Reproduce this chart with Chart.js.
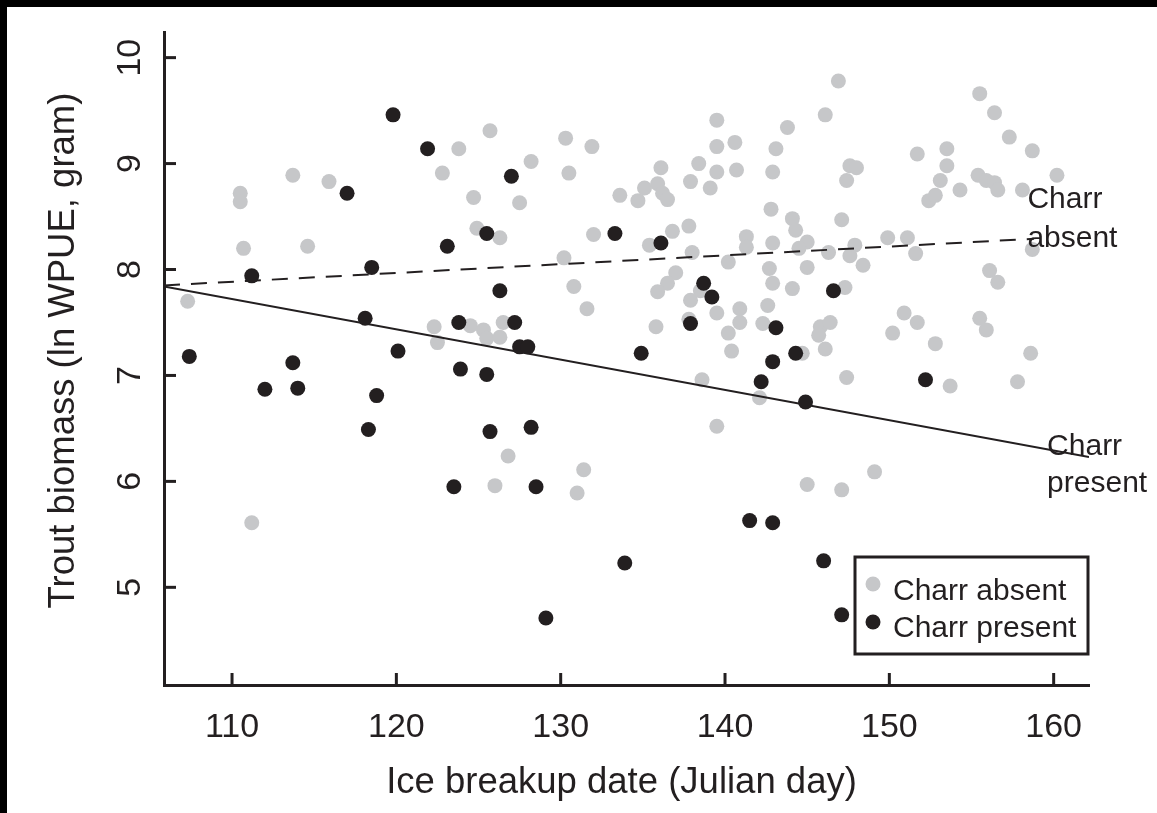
<!DOCTYPE html>
<html>
<head>
<meta charset="utf-8">
<title>Trout biomass vs ice breakup date</title>
<script src="https://cdn.jsdelivr.net/npm/chart.js@4.4.1/dist/chart.umd.min.js"></script>
<style>
  html, body { margin: 0; padding: 0; background: #fff; }
  canvas { display: block; }
</style>
</head>
<body>
<canvas id="c" width="1157" height="813"></canvas>
<script>
// ---------------- DATA ----------------
const xTicks = [110, 120, 130, 140, 150, 160];
const yTicks = [5, 6, 7, 8, 9, 10];

const xTitle = 'Ice breakup date (Julian day)';
const yTitle = 'Trout biomass (ln WPUE, gram)';
const seriesNames = ['Charr absent', 'Charr present'];

// Charr absent (grey points)
const absentDay = [
  107.3,110.5,110.5,110.7,111.2,113.7,114.6,115.9,123.8,125.7,122.8,128.2,130.3,131.9,130.5,124.7,
  127.5,133.6,134.7,135.1,135.9,136.2,136.5,136.1,137.9,138.4,139.5,139.5,140.6,139.5,140.7,139.1,
  143.1,142.9,142.8,137.8,136.8,141.3,141.3,142.9,138.0,140.2,142.7,142.9,137.0,136.5,135.9,135.4,
  132.0,124.9,126.3,130.2,130.8,138.5,137.9,131.6,137.8,139.5,140.9,140.9,140.2,140.4,135.8,142.6,
  142.3,142.1,138.6,139.5,122.3,122.5,124.5,125.3,125.5,126.3,126.5,126.8,131.4,126.0,131.0,146.9,
  146.1,143.8,147.6,148.0,147.4,144.1,144.3,147.1,145.0,144.5,146.3,147.6,147.9,149.9,151.1,151.6,
  148.4,145.0,144.1,147.3,151.7,153.5,153.5,153.1,152.4,152.8,154.3,155.5,156.4,157.3,158.7,160.2,
  155.4,155.9,156.4,156.6,158.1,158.7,156.1,156.6,145.8,146.4,145.7,144.7,146.1,147.4,150.9,151.7,
  150.2,152.8,155.5,155.9,158.6,157.8,153.7,149.1,145.0,147.1
];
const absentBiomass = [
  7.70,8.72,8.64,8.20,5.61,8.89,8.22,8.83,9.14,9.31,8.91,9.02,9.24,9.16,8.91,8.68,
  8.63,8.70,8.65,8.77,8.81,8.72,8.66,8.96,8.83,9.00,9.41,9.16,9.20,8.92,8.94,8.77,
  9.14,8.92,8.57,8.41,8.36,8.31,8.21,8.25,8.16,8.07,8.01,7.87,7.97,7.87,7.79,8.23,
  8.33,8.39,8.30,8.11,7.84,7.80,7.71,7.63,7.53,7.59,7.63,7.50,7.40,7.23,7.46,7.66,
  7.49,6.79,6.96,6.52,7.46,7.31,7.47,7.43,7.35,7.36,7.50,6.24,6.11,5.96,5.89,9.78,
  9.46,9.34,8.98,8.96,8.84,8.48,8.37,8.47,8.26,8.20,8.16,8.13,8.23,8.30,8.30,8.15,
  8.04,8.02,7.82,7.83,9.09,9.14,8.98,8.84,8.65,8.70,8.75,9.66,9.48,9.25,9.12,8.89,
  8.89,8.84,8.82,8.75,8.75,8.19,7.99,7.88,7.46,7.50,7.38,7.21,7.25,6.98,7.59,7.50,
  7.40,7.30,7.54,7.43,7.21,6.94,6.90,6.09,5.97,5.92
];

// Charr present (dark points)
const presentDay = [
  107.4,111.2,112.0,113.7,114.0,117.0,118.1,118.3,118.5,118.8,119.8,120.1,121.9,123.1,123.5,123.8,
  123.9,125.5,125.5,125.7,126.3,127.0,127.2,127.5,128.0,128.2,128.5,129.1,133.3,133.9,134.9,136.1,
  137.9,138.7,139.2,141.5,142.2,142.9,142.9,143.1,144.3,144.9,146.0,146.6,147.1,152.2
];
const presentBiomass = [
  7.18,7.94,6.87,7.12,6.88,8.72,7.54,6.49,8.02,6.81,9.46,7.23,9.14,8.22,5.95,7.50,
  7.06,8.34,7.01,6.47,7.80,8.88,7.50,7.27,7.27,6.51,5.95,4.71,8.34,5.23,7.21,8.25,
  7.49,7.87,7.74,5.63,6.94,7.13,5.61,7.45,7.21,6.75,5.25,7.80,4.74,6.96
];

// Fitted regression lines (end points)
const absentFitDay = [105.86, 158.8];
const absentFitBiomass = [7.85, 8.29];
const presentFitDay = [105.86, 162.15];
const presentFitBiomass = [7.84, 6.23];

// ---------------- STYLE ----------------
const INK = '#231f20';
const GREY = '#c6c7c9';
const FONT = '"Liberation Sans", Arial, Helvetica, sans-serif';

const toPts = (xs, ys) => xs.map((v, i) => ({ x: v, y: ys[i] }));

// Text annotations anchored in data space
const notes = [
  { lines: ['Charr', 'absent'], x: 158.4, y: [8.58, 8.21] },
  { lines: ['Charr', 'present'], x: 159.6, y: [6.25, 5.90] }
];

const decor = {
  id: 'decor',
  beforeDraw(chart) {
    const ctx = chart.ctx;
    ctx.save();
    ctx.fillStyle = '#000';
    ctx.fillRect(0, 0, chart.width, chart.height);
    ctx.fillStyle = '#fff';
    ctx.fillRect(7, 7, chart.width - 7, chart.height - 7);
    ctx.restore();
  },
  afterDraw(chart) {
    const { ctx, chartArea: a, scales: { x, y } } = chart;
    ctx.save();
    ctx.strokeStyle = INK;
    ctx.fillStyle = INK;
    ctx.lineWidth = 3;
    ctx.lineCap = 'butt';

    // inward tick marks
    xTicks.forEach(v => {
      const px = x.getPixelForValue(v);
      ctx.beginPath(); ctx.moveTo(px, a.bottom); ctx.lineTo(px, a.bottom - 12); ctx.stroke();
    });
    yTicks.forEach(v => {
      const py = y.getPixelForValue(v);
      ctx.beginPath(); ctx.moveTo(a.left, py); ctx.lineTo(a.left + 12, py); ctx.stroke();
    });

    // tick labels
    ctx.font = '34px ' + FONT;
    ctx.textAlign = 'center';
    ctx.textBaseline = 'alphabetic';
    xTicks.forEach(v => ctx.fillText(String(v), x.getPixelForValue(v), a.bottom + 52));
    yTicks.forEach(v => {
      ctx.save();
      ctx.translate(a.left - 24, y.getPixelForValue(v));
      ctx.rotate(-Math.PI / 2);
      ctx.fillText(String(v), 0, 0);
      ctx.restore();
    });

    // axis titles
    ctx.font = '36.5px ' + FONT;
    ctx.fillText(xTitle, (a.left + a.right) / 2 - 5, a.bottom + 108);
    ctx.save();
    ctx.translate(a.left - 90, (a.top + a.bottom) / 2 - 8);
    ctx.rotate(-Math.PI / 2);
    ctx.fillText(yTitle, 0, 0);
    ctx.restore();

    // line labels
    ctx.font = '30px ' + FONT;
    ctx.textAlign = 'left';
    notes.forEach(n => {
      n.lines.forEach((t, i) => ctx.fillText(t, x.getPixelForValue(n.x), y.getPixelForValue(n.y[i])));
    });

    // legend box
    const bw = 233, bh = 97;
    const bx = a.right - 1 - bw, by = a.bottom - 31 - bh;
    ctx.lineWidth = 3;
    ctx.strokeRect(bx, by, bw, bh);
    const cols = [GREY, INK];
    seriesNames.forEach((name, i) => {
      ctx.fillStyle = cols[i];
      ctx.beginPath();
      ctx.arc(bx + 18, by + 27 + i * 38, 7.5, 0, Math.PI * 2);
      ctx.fill();
      ctx.fillStyle = INK;
      ctx.fillText(name, bx + 38, by + 43 + i * 37);
    });
    ctx.restore();
  }
};

new Chart(document.getElementById('c'), {
  type: 'scatter',
  data: {
    datasets: [
      {
        label: seriesNames[1],
        data: toPts(presentDay, presentBiomass),
        backgroundColor: INK, borderWidth: 0,
        pointRadius: 7.5, pointHoverRadius: 7.5, order: 0
      },
      {
        label: 'absent fit',
        data: toPts(absentFitDay, absentFitBiomass),
        showLine: true, borderColor: INK, borderWidth: 2, borderDash: [16, 11],
        pointRadius: 0, fill: false, order: 1
      },
      {
        label: 'present fit',
        data: toPts(presentFitDay, presentFitBiomass),
        showLine: true, borderColor: INK, borderWidth: 2,
        pointRadius: 0, fill: false, order: 1
      },
      {
        label: seriesNames[0],
        data: toPts(absentDay, absentBiomass),
        backgroundColor: GREY, borderWidth: 0,
        pointRadius: 7.5, pointHoverRadius: 7.5, order: 2
      }
    ]
  },
  options: {
    responsive: false,
    devicePixelRatio: 1,
    animation: false,
    events: [],
    layout: { padding: { left: 0, right: 68, top: 32, bottom: 0 } },
    plugins: { legend: { display: false }, tooltip: { enabled: false }, title: { display: false } },
    scales: {
      x: {
        type: 'linear', min: 105.86, max: 162.15,
        grid: { display: false },
        border: { display: true, width: 3, color: INK },
        ticks: { display: false },
        afterFit(s) { s.height = 128; }
      },
      y: {
        type: 'linear', min: 4.078, max: 10.242,
        grid: { display: false },
        border: { display: true, width: 3, color: INK },
        ticks: { display: false },
        afterFit(s) { s.width = 164; }
      }
    }
  },
  plugins: [decor]
});
</script>
</body>
</html>
